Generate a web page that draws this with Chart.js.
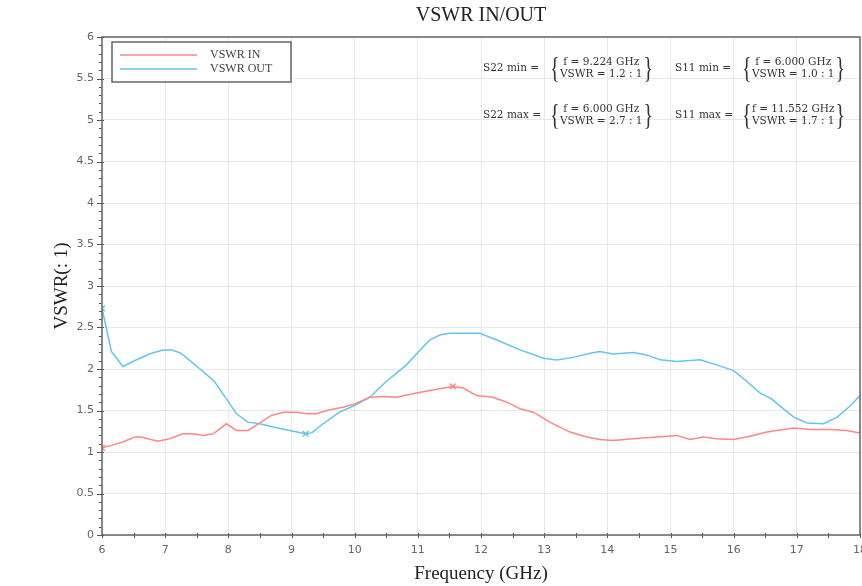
<!DOCTYPE html>
<html>
<head>
<meta charset="utf-8">
<script src="https://cdn.jsdelivr.net/npm/chart.js@4.4.1/dist/chart.umd.min.js"></script>
<style>
html,body{margin:0;padding:0;background:#fff;overflow:hidden;}
#wrap{width:862px;height:586px;position:relative;overflow:hidden;}
</style>
</head>
<body>
<div id="wrap"><canvas id="c" width="862" height="586"></canvas></div>
<script>
// ---- data ----
const freqIn = [6.0, 6.15, 6.33, 6.52, 6.62, 6.88, 7.07, 7.28, 7.44, 7.6, 7.76, 7.97, 8.13, 8.31, 8.5, 8.68, 8.87, 9.08, 9.24, 9.39, 9.6, 9.82, 10.0, 10.24, 10.45, 10.66, 10.98, 11.19, 11.552, 11.72, 11.93, 12.19, 12.41, 12.62, 12.83, 13.09, 13.41, 13.67, 13.88, 14.09, 14.41, 14.78, 15.1, 15.31, 15.52, 15.73, 16.0, 16.26, 16.53, 16.68, 16.95, 17.21, 17.53, 17.79, 18.0];
const vswrIn = [1.05, 1.08, 1.12, 1.18, 1.18, 1.13, 1.16, 1.22, 1.22, 1.2, 1.22, 1.34, 1.26, 1.26, 1.35, 1.44, 1.48, 1.48, 1.46, 1.46, 1.51, 1.54, 1.58, 1.66, 1.67, 1.66, 1.71, 1.74, 1.79, 1.77, 1.68, 1.66, 1.60, 1.52, 1.48, 1.36, 1.24, 1.18, 1.15, 1.14, 1.16, 1.18, 1.2, 1.15, 1.18, 1.16, 1.15, 1.19, 1.24, 1.26, 1.29, 1.27, 1.27, 1.26, 1.23];
const freqOut = [6.0, 6.15, 6.33, 6.49, 6.75, 6.96, 7.1, 7.25, 7.44, 7.6, 7.78, 7.97, 8.13, 8.31, 8.5, 8.71, 8.97, 9.224, 9.32, 9.5, 9.76, 10.0, 10.24, 10.5, 10.82, 11.0, 11.19, 11.35, 11.51, 11.98, 12.25, 12.62, 12.99, 13.2, 13.46, 13.73, 13.88, 14.09, 14.41, 14.62, 14.84, 15.1, 15.47, 15.73, 16.0, 16.21, 16.42, 16.6, 16.79, 16.95, 17.16, 17.42, 17.64, 17.85, 18.0];
const vswrOut = [2.73, 2.21, 2.03, 2.09, 2.18, 2.23, 2.23, 2.19, 2.07, 1.97, 1.85, 1.64, 1.46, 1.36, 1.34, 1.30, 1.26, 1.22, 1.23, 1.34, 1.48, 1.56, 1.66, 1.85, 2.05, 2.2, 2.35, 2.41, 2.43, 2.43, 2.35, 2.23, 2.13, 2.11, 2.14, 2.19, 2.21, 2.18, 2.20, 2.17, 2.11, 2.09, 2.11, 2.05, 1.98, 1.85, 1.71, 1.64, 1.52, 1.42, 1.35, 1.34, 1.42, 1.56, 1.68];
// marked extremes
const markInF = [6.0, 11.552];
const markInV = [1.05, 1.79];
const markOutF = [9.224, 6.0];
const markOutV = [1.22, 2.73];
// annotation texts
const annotations = [
  {label: "S22 min =", l1: "f = 9.224 GHz", l2: "VSWR = 1.2 : 1"},
  {label: "S11 min =", l1: "f = 6.000 GHz", l2: "VSWR = 1.0 : 1"},
  {label: "S22 max =", l1: "f = 6.000 GHz", l2: "VSWR = 2.7 : 1"},
  {label: "S11 max =", l1: "f = 11.552 GHz", l2: "VSWR = 1.7 : 1"}
];
const seriesNames = ["VSWR IN", "VSWR OUT"];
const titleText = "VSWR IN/OUT";
const xTitle = "Frequency (GHz)";
const yTitle = "VSWR(: 1)";

const RED = "rgb(255,135,135)";
const BLUE = "rgb(100,196,238)";
const SERIF = "'Liberation Serif', 'DejaVu Serif', serif";
const DSERIF = "'DejaVu Serif', 'Liberation Serif', serif";
const SANS = "'DejaVu Sans', sans-serif";

const zip = (a, b) => a.map((v, i) => ({x: v, y: b[i]}));

const decor = {
  id: 'decor',
  afterLayout(chart) {
    const a = chart.chartArea;
    a.right = 860;
    a.width = a.right - a.left;
    const xs = chart.scales.x;
    xs.right = 860;
    xs.width = xs.right - xs.left;
    xs.configure();
  },
  beforeDatasetsDraw(chart) {
    const {ctx, chartArea: a} = chart;
    ctx.save();
    const xs = chart.scales.x, ys = chart.scales.y;
    ctx.strokeStyle = '#555';
    ctx.lineWidth = 1;
    for (let v = 0; v <= 6.0001; v += 0.1) {
      const y = Math.round(ys.getPixelForValue(v)) + 0.5;
      const major = Math.abs(v * 2 - Math.round(v * 2)) < 1e-6;
      ctx.beginPath();
      ctx.moveTo(a.left - (major ? 5 : 3), y);
      ctx.lineTo(a.left + (major ? 2 : 0), y);
      ctx.stroke();
    }
    for (let v = 6; v <= 18.0001; v += 0.5) {
      const x = Math.round(xs.getPixelForValue(v)) + 0.5;
      ctx.beginPath();
      ctx.moveTo(x, a.bottom - 2);
      ctx.lineTo(x, a.bottom + 3);
      ctx.stroke();
    }
    ctx.restore();
  },
  afterDraw(chart) {
    const {ctx, chartArea: a} = chart;
    ctx.save();
    ctx.strokeStyle = '#666';
    ctx.lineWidth = 1.5;
    ctx.strokeRect(a.left, a.top, a.right - a.left, a.bottom - a.top);
    ctx.fillStyle = '#222';
    ctx.font = "20px " + SERIF;
    ctx.textAlign = 'center';
    ctx.textBaseline = 'middle';
    ctx.fillText(titleText, (a.left + a.right) / 2, 16);
    ctx.font = "19px " + SERIF;
    ctx.fillText(xTitle, (a.left + a.right) / 2, 574);
    ctx.save();
    ctx.translate(62, (a.top + a.bottom) / 2);
    ctx.rotate(-Math.PI / 2);
    ctx.fillText(yTitle, 0, 0);
    ctx.restore();
    // legend
    const lx = a.left + 10, ly = a.top + 5, lw = 179, lh = 40;
    ctx.fillStyle = '#fff';
    ctx.fillRect(lx, ly, lw, lh);
    ctx.strokeStyle = '#666';
    ctx.lineWidth = 1.5;
    ctx.strokeRect(lx, ly, lw, lh);
    const cols = [RED, BLUE];
    ctx.font = "12px " + SERIF;
    ctx.textAlign = 'left';
    seriesNames.forEach((n, i) => {
      const yy = ly + 13 + i * 14;
      ctx.strokeStyle = cols[i];
      ctx.lineWidth = 1.5;
      ctx.beginPath();
      ctx.moveTo(lx + 8, yy);
      ctx.lineTo(lx + 85, yy);
      ctx.stroke();
      ctx.fillStyle = '#444';
      ctx.fillText(n, lx + 98, yy);
    });
    // annotations
    const pos = [[483, 68], [675, 68], [483, 115], [675, 115]];
    annotations.forEach((an, i) => {
      const [x0, y0] = pos[i];
      ctx.fillStyle = '#333';
      ctx.textAlign = 'left';
      ctx.font = "10.5px " + DSERIF;
      ctx.fillText(an.label, x0, y0);
      const bx = x0 + 67;
      const w = Math.max(ctx.measureText(an.l1).width, ctx.measureText(an.l2).width);
      ctx.textAlign = 'center';
      ctx.fillText(an.l1, bx + 10 + w / 2, y0 - 6);
      ctx.fillText(an.l2, bx + 10 + w / 2, y0 + 6);
      ctx.textAlign = 'left';
      ctx.font = "20px " + SERIF;
      ctx.save();
      ctx.translate(0, y0 + 1);
      ctx.scale(1, 1.5);
      ctx.fillText("{", bx, 0);
      ctx.fillText("}", bx + 11 + w, 0);
      ctx.restore();
    });
    ctx.restore();
  }
};

new Chart(document.getElementById('c'), {
  type: 'line',
  data: {
    datasets: [
      {label: seriesNames[0], data: zip(freqIn, vswrIn), borderColor: RED, borderWidth: 1.5, pointRadius: 0, tension: 0},
      {label: seriesNames[1], data: zip(freqOut, vswrOut), borderColor: BLUE, borderWidth: 1.5, pointRadius: 0, tension: 0},
      {label: 'in-mark', data: zip(markInF, markInV), showLine: false, pointStyle: 'crossRot', pointRadius: 4, borderColor: RED, borderWidth: 1.5},
      {label: 'out-mark', data: zip(markOutF, markOutV), showLine: false, pointStyle: 'crossRot', pointRadius: 4, borderColor: BLUE, borderWidth: 1.5}
    ]
  },
  options: {
    responsive: false,
    animation: false,
    devicePixelRatio: 1,
    layout: {padding: {left: 0, top: 37, right: 2, bottom: 0}},
    plugins: {legend: {display: false}, tooltip: {enabled: false}, title: {display: false}},
    scales: {
      x: {
        type: 'linear', min: 6, max: 18,
        ticks: {stepSize: 1, color: '#666', font: {family: SANS, size: 11}, padding: 9, maxRotation: 0},
        grid: {color: '#e8e8e8', drawTicks: false},
        border: {display: false},
        afterFit(s) { s.height = 51; s.paddingLeft = 0; s.paddingRight = 0; }
      },
      y: {
        type: 'linear', min: 0, max: 6,
        ticks: {stepSize: 0.5, color: '#666', font: {family: SANS, size: 11}, padding: 8,
                callback: v => String(Math.round(v * 10) / 10)},
        grid: {color: '#e8e8e8', drawTicks: false},
        border: {display: false},
        afterFit(s) { s.width = 102; s.paddingTop = 0; s.paddingBottom = 0; }
      }
    }
  },
  plugins: [decor]
});
</script>
</body>
</html>
